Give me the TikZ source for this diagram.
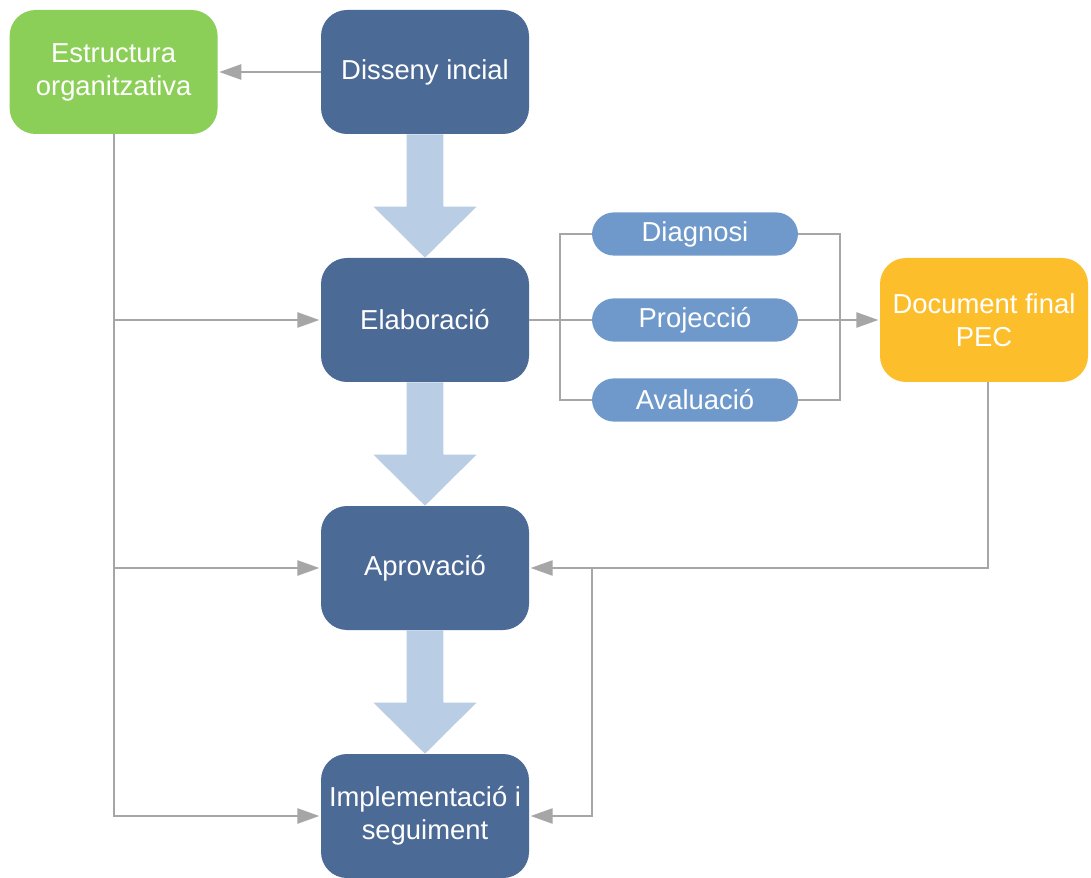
\documentclass[tikz,border=0pt]{standalone}
\usepackage{fontspec}
\setmainfont{Liberation Sans}
\usepackage{tikz}
\usetikzlibrary{arrows.meta}
\usetikzlibrary{calc}
\usepackage{xcolor}
\definecolor{stepblue}{HTML}{4B6A96}
\definecolor{pillblue}{HTML}{7099CB}
\definecolor{flowblue}{HTML}{B9CDE5}
\definecolor{orggreen}{HTML}{8CCF58}
\definecolor{docorange}{HTML}{FDBE2B}
\definecolor{linegray}{HTML}{A6A6A6}

\begin{document}
\begin{tikzpicture}[
  box/.style={rounded corners=0.65cm, minimum width=5.2cm, minimum height=3.1cm, align=center,
    text=white, font=\fontsize{19.5}{23.5}\selectfont, inner sep=2pt},
  stepbox/.style={box, fill=stepblue},
  pill/.style={rounded corners=0.55cm, fill=pillblue, minimum width=5.15cm, minimum height=1.08cm,
    text=white, font=\fontsize{19.5}{23.5}\selectfont, inner sep=1pt},
  link/.style={draw=linegray, line width=1.4pt},
  arr/.style={link, -{Triangle[length=0.55cm, width=0.38cm]}, shorten >=1pt},
  flow/.style={fill=flowblue}
]
\useasboundingbox (0,0) rectangle (27.275,21.925);

\node [box, fill=orggreen] (est) at (2.84,20.125) {Estructura\\organitzativa};
\node [stepbox] (dis) at (10.625,20.125) {Disseny incial};
\node [stepbox] (ela) at (10.625,13.925) {Elaboració};
\node [stepbox] (apr) at (10.625,7.725) {Aprovació};
\node [stepbox] (imp) at (10.625,1.525) {Implementació i\\seguiment};

\node [pill] (diag) at (17.375,16.075) {Diagnosi};
\node [pill] (proj) at (17.375,13.925) {Projecció};
\node [pill] (aval) at (17.375,11.925) {Avaluació};
\node [box, fill=docorange] (doc) at (24.6,13.925) {Document final\\PEC};

% fletxes grans
\fill [flow] ($(dis.south)+(-0.46,0)$) -- ($(ela.north)+(-0.46,1.28)$) -- ($(ela.north)+(-1.29,1.28)$) -- (ela.north)
  -- ($(ela.north)+(1.29,1.28)$) -- ($(ela.north)+(0.46,1.28)$) -- ($(dis.south)+(0.46,0)$) -- cycle;
\fill [flow] ($(ela.south)+(-0.46,0)$) -- ($(apr.north)+(-0.46,1.28)$) -- ($(apr.north)+(-1.29,1.28)$) -- (apr.north)
  -- ($(apr.north)+(1.29,1.28)$) -- ($(apr.north)+(0.46,1.28)$) -- ($(ela.south)+(0.46,0)$) -- cycle;
\fill [flow] ($(apr.south)+(-0.46,0)$) -- ($(imp.north)+(-0.46,1.28)$) -- ($(imp.north)+(-1.29,1.28)$) -- (imp.north)
  -- ($(imp.north)+(1.29,1.28)$) -- ($(imp.north)+(0.46,1.28)$) -- ($(apr.south)+(0.46,0)$) -- cycle;

\draw [arr] (dis.west) -- (est.east);
\draw [arr] (est.south) |- (imp.west);
\draw [arr] (est.south |- ela.west) -- (ela.west);
\draw [arr] (est.south |- apr.west) -- (apr.west);

\draw [link] (ela.east) -- (proj.west);
\draw [link] (diag.west) -- ++(-0.8,0) |- (aval.west);
\draw [link] (diag.east) -- ++(1.05,0) |- (aval.east);
\draw [arr] (proj.east) -- (doc.west);

\coordinate (fork) at (14.8,7.725);
\draw [arr] ([xshift=0.1cm]doc.south) |- (apr.east);
\draw [arr] (fork) |- (imp.east);

\end{tikzpicture}
\end{document}
